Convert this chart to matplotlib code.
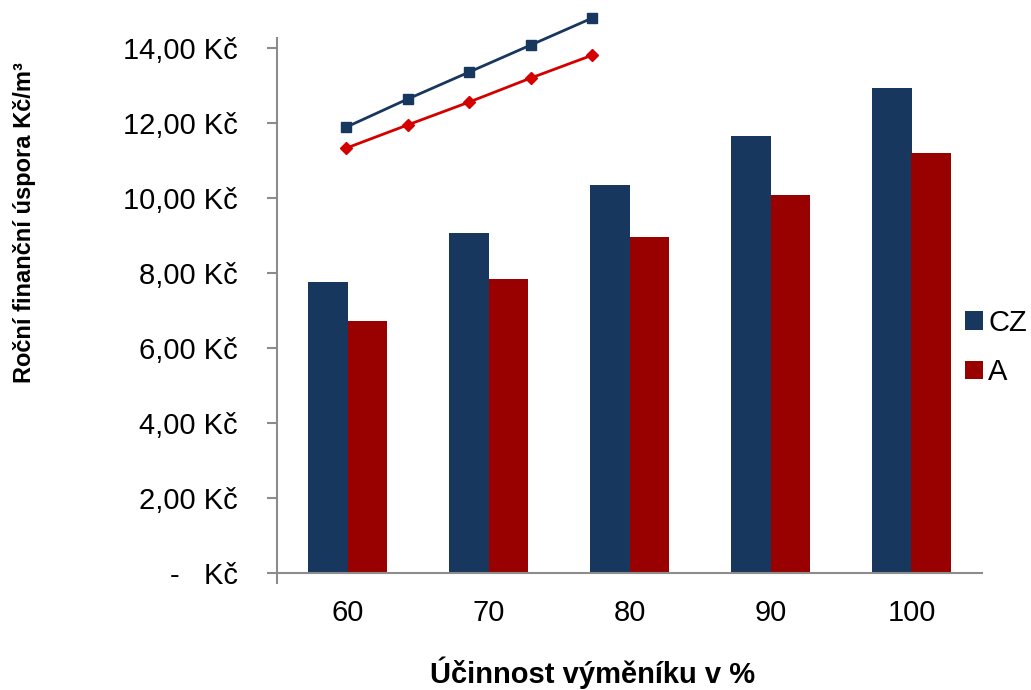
import matplotlib
matplotlib.use('Agg')
import matplotlib.pyplot as plt
import numpy as np

plt.rcParams['font.family'] = ['Liberation Sans', 'DejaVu Sans']

# data
ucinnost = ['60', '70', '80', '90', '100']
cz_bars = [7.76, 9.07, 10.35, 11.65, 12.93]
a_bars = [6.72, 7.84, 8.96, 10.08, 11.20]
cz_line = [11.89, 12.64, 13.36, 14.08, 14.80]
a_line = [11.33, 11.95, 12.56, 13.20, 13.81]

navy = '#17375E'
dark_red = '#990000'
red = '#D40000'
grey = '#8C8C8C'

fig = plt.figure(figsize=(10.31, 6.9), dpi=100)
ax = fig.add_axes([277/1031, 117/690, 705/1031, 535/690])

x = np.arange(len(ucinnost))
w = 0.28
ax.bar(x - w/2, cz_bars, w, color=navy, label='CZ')
ax.bar(x + w/2, a_bars, w, color=dark_red, label='A')
ax.set_xlim(-0.5, 4.5)
ax.set_ylim(0, 14.27)

# osa y
yt = np.arange(0, 15, 2)
ax.set_yticks(yt)
ax.set_yticklabels(['-   Kč' if v == 0 else '{:.2f} Kč'.format(v).replace('.', ',') for v in yt])
ax.set_xticks(x)
ax.set_xticklabels(ucinnost)
ax.tick_params(axis='y', length=7, width=1.5, color=grey, pad=21, labelsize=21)
ax.tick_params(axis='x', length=0, pad=19, labelsize=21)

for s in ['top', 'right']:
    ax.spines[s].set_visible(False)
for s in ['left', 'bottom']:
    ax.spines[s].set_color(grey)
    ax.spines[s].set_linewidth(1.5)
ax.spines['left'].set_bounds(-0.27, 14.27)

# čáry na vedlejší ose
ax2 = ax.twiny()
ax2.set_xlim(-1.122, 10.34)
ax2.set_ylim(0, 14.27)
ax2.axis('off')
ax2.plot(x, cz_line, color=navy, lw=2, marker='s', ms=7, clip_on=False)
ax2.plot(x, a_line, color=red, lw=2, marker='D', ms=6.5, clip_on=False)

ax.legend(loc='center left', bbox_to_anchor=(965/1031, 1 - 347.5/690),
          bbox_transform=fig.transFigure, frameon=False, fontsize=21,
          handlelength=0.6, handleheight=0.6, handletextpad=0.2,
          labelspacing=0.75, borderpad=0, borderaxespad=0)

fig.text(25/1031, 1 - 223/690, 'Roční finanční úspora Kč/m³', rotation=90,
         ha='center', va='center', fontsize=17, fontweight='bold')
fig.text(593/1031, 1/690, 'Účinnost výměníku v %', ha='center', va='bottom',
         fontsize=21, fontweight='bold')

fig.savefig('out.png', dpi=100)
